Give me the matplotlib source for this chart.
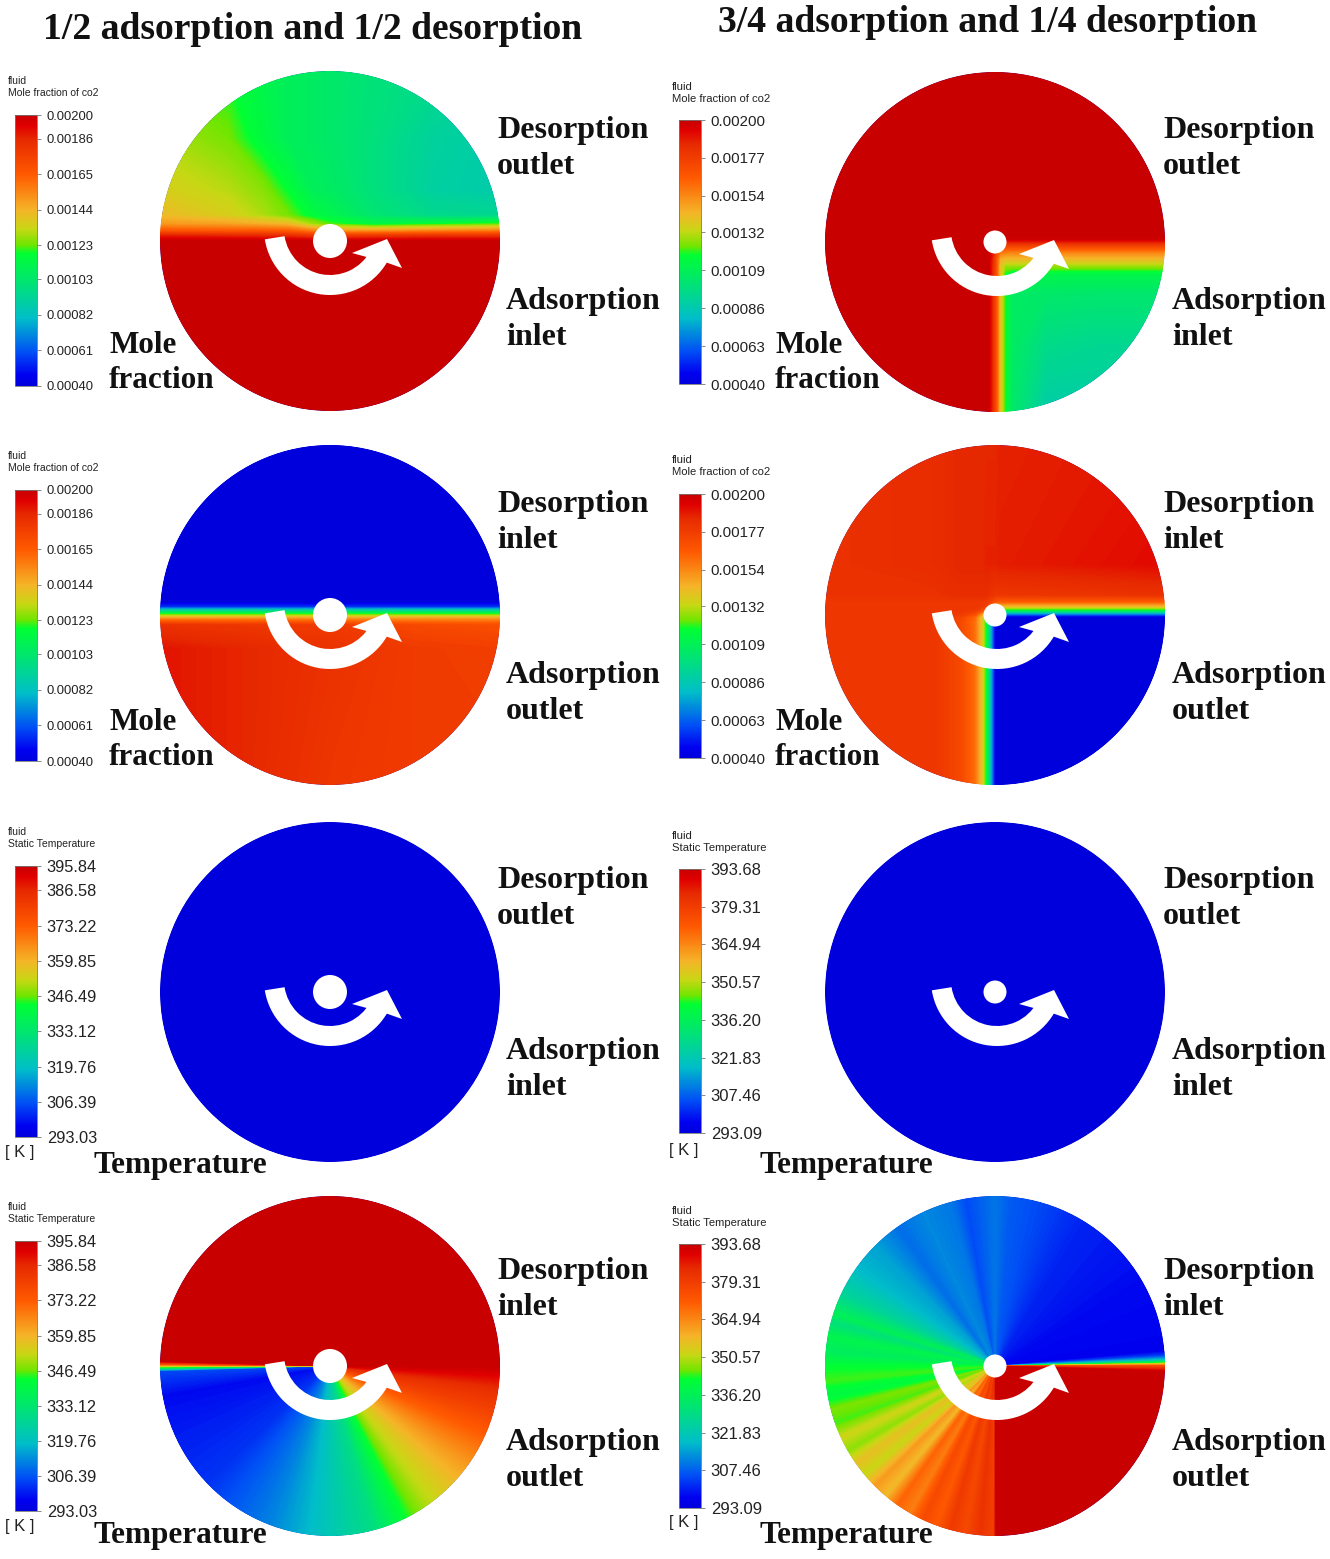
import numpy as np
import matplotlib
matplotlib.use("Agg")
from matplotlib import pyplot as plt
from matplotlib.cm import ScalarMappable
from matplotlib.colors import LinearSegmentedColormap, Normalize
from matplotlib.patches import Circle, Polygon, Wedge

W, H = 1330, 1559

# colour scale
cmap_pos = [0, .04, .125, .25, .39, .49, .52, .58, .65, .78, .9125, .96, 1]
cmap_col = ["#0000dc", "#0000f0", "#0050f5", "#00bec8", "#00e66e", "#00ff32", "#6ee600",
            "#c8d714", "#f5b428", "#ff5a00", "#e62800", "#e00000", "#c80000"]
fluent = LinearSegmentedColormap.from_list("fluent", list(zip(cmap_pos, cmap_col)), N=512)

# legend ticks
mole_left = [0.00200, 0.00186, 0.00165, 0.00144, 0.00123, 0.00103, 0.00082, 0.00061, 0.00040]
mole_right = [0.00200, 0.00177, 0.00154, 0.00132, 0.00109, 0.00086, 0.00063, 0.00040]
temp_left = [395.84, 386.58, 373.22, 359.85, 346.49, 333.12, 319.76, 306.39, 293.03]
temp_right = [393.68, 379.31, 364.94, 350.57, 336.20, 321.83, 307.46, 293.09]

# mole fraction fields x 1e-5, on (v, u) knots of the unit disc, v from top to bottom
a1_u = [-1, -.6, -.4, -.25, -.1, 0, .25, .6, 1]
a1_v = [1, .6, .3, .15, .1, .06, .03, 0, -1]
a1_z = [[122, 118, 112, 108, 106, 104, 100, 96, 92],
        [130, 124, 115, 108, 106, 104, 99, 91, 88],
        [136, 131, 126, 118, 108, 106, 99, 90, 87],
        [142, 136, 130, 124, 116, 112, 102, 95, 94],
        [150, 148, 145, 142, 128, 122, 114, 118, 122],
        [166, 165, 165, 164, 155, 150, 150, 154, 156],
        [188, 186, 185, 184, 180, 178, 180, 182, 182],
        [200, 200, 200, 200, 200, 200, 200, 200, 200],
        [200, 200, 200, 200, 200, 200, 200, 200, 200]]

a2_u = [-1, -.5, 0, .5, 1]
a2_v = [1, .08, .05, .03, .01, -.01, -.03, -.06, -.2, -1]
a2_z = [[40, 40, 40, 40, 40],
        [40, 40, 40, 40, 40],
        [55, 55, 55, 55, 55],
        [90, 90, 90, 90, 90],
        [118, 118, 118, 118, 118],
        [140, 140, 140, 140, 140],
        [160, 160, 158, 156, 155],
        [182, 180, 178, 172, 170],
        [190, 186, 182, 178, 176],
        [190, 186, 180, 178, 178]]

b1_u = [-1, -.04, -.015, .01, .03, .06, .1, .3, .6, 1]
b1_v = [1, .02, -.02, -.06, -.1, -.14, -.19, -.3, -.6, -1]
b1_z = [[200, 200, 200, 200, 200, 200, 200, 200, 200, 200],
        [200, 200, 200, 200, 200, 200, 200, 200, 200, 200],
        [200, 200, 195, 185, 178, 175, 175, 175, 175, 175],
        [200, 200, 190, 170, 158, 156, 155, 155, 155, 155],
        [200, 200, 186, 165, 145, 142, 142, 142, 142, 142],
        [200, 200, 185, 165, 140, 128, 128, 128, 128, 128],
        [200, 200, 185, 165, 140, 118, 112, 112, 112, 112],
        [200, 200, 185, 165, 140, 118, 106, 104, 103, 103],
        [200, 200, 185, 165, 140, 118, 106, 96, 94, 94],
        [200, 200, 185, 165, 140, 118, 104, 88, 88, 88]]

b2_u = [-1, -.35, -.2, -.12, -.08, -.05, -.03, 0, .03, 1]
b2_v = [1, .3, .12, .08, .05, .03, .01, -.01, -.04, -1]
b2_z = [[182, 184, 186, 186, 186, 186, 186, 186, 187, 190],
        [182, 184, 186, 186, 186, 187, 187, 187, 188, 192],
        [182, 182, 184, 184, 184, 184, 182, 180, 180, 182],
        [180, 180, 180, 180, 180, 178, 175, 168, 165, 165],
        [180, 180, 180, 180, 178, 175, 165, 145, 140, 140],
        [180, 180, 180, 178, 172, 160, 140, 120, 115, 115],
        [180, 180, 178, 172, 155, 130, 105, 80, 75, 75],
        [180, 180, 174, 162, 140, 115, 85, 45, 42, 42],
        [180, 180, 172, 160, 140, 115, 85, 42, 40, 40],
        [180, 180, 172, 160, 140, 115, 85, 42, 40, 40]]

# temperature fields, angle in degrees and value in K
c_theta = [0, 45, 90, 135, 178.3, 179.4, 180, 180.7, 181.7, 190, 225, 250, 270, 285, 295, 305, 315,
           325, 335, 345, 352, 357, 360]
c_temp = [395.84, 395.84, 395.84, 395.84, 395.84, 375, 355, 335, 305, 298, 303, 312, 322, 330, 342,
          351, 357, 364, 372, 380, 385, 392, 395.84]

d_theta = [0, 1, 2, 3.5, 5, 30, 60, 75, 85, 90, 100, 105, 115, 125, 135, 145, 150, 155, 162, 165,
           170, 175, 180, 185, 190, 195, 200, 205, 210, 215, 220, 225, 230, 235, 240, 245, 250, 255,
           260, 265, 269.5, 270.5, 300, 330, 358, 360]
d_temp = [375, 345, 320, 304, 297, 298, 301, 305, 307, 310, 305, 310, 312, 309, 315, 318, 322, 326,
          336, 330, 338, 335, 342, 344, 340, 346, 344, 352, 347, 356, 351, 362, 357, 370, 366,
          376, 372, 380, 376, 382, 378, 393.68, 393.68, 393.68, 393.68, 375]

# uniform temperature of the third row
uniform_temp = [293.03, 293.09]

title_left = "1/2 adsorption and 1/2 desorption"
title_right = "3/4 adsorption and 1/4 desorption"

sans = ["Liberation Sans", "DejaVu Sans"]
serif = ["Liberation Serif", "DejaVu Serif"]

fig = plt.figure(figsize=(W / 100, H / 100), dpi=100, facecolor="white")
ax = fig.add_axes([0, 0, 1, 1])
ax.set_xlim(0, W)
ax.set_ylim(H, 0)
ax.axis("off")


def draw_disc(cx, cy, hole, norm, arrow_dx, grid=None, polar=None, uniform=None):
    R = 170
    base = uniform if uniform is not None else norm.vmin
    disc = Circle((cx, cy), R, fc=fluent(norm(base)), ec="none", zorder=1)
    ax.add_patch(disc)
    levels = np.linspace(norm.vmin, norm.vmax, 220)
    if grid is not None:
        u, v, z = grid
        X, Y = np.meshgrid(cx + np.array(u) * R, cy - np.array(v) * R)
        Z = np.array(z) * 1e-5
    if polar is not None:
        theta, vals = polar
        th = np.radians(theta)
        radii = np.array([.03, 1.1]) * R
        X = cx + np.outer(radii, np.cos(th))
        Y = cy - np.outer(radii, np.sin(th))
        Z = np.vstack([vals, vals])
    if grid is not None or polar is not None:
        cs = ax.contourf(X, Y, Z, levels=levels, cmap=fluent, norm=norm, extend="both",
                         antialiased=False, zorder=2)
        cs.set_clip_path(disc)
    # white ring smooths the clipped edge
    ax.add_patch(Circle((cx, cy), R + 3, fc="none", ec="white", lw=4, zorder=3))
    ax.add_patch(Circle((cx, cy), hole, fc="white", ec="none", zorder=4))
    # rotation arrow
    ax_c = (cx + arrow_dx, cy - 12)
    ax.add_patch(Wedge(ax_c, 66, 30, 171, width=20, fc="white", ec="none", zorder=5))
    ox, oy = cx + arrow_dx, cy
    ax.add_patch(Polygon([(ox + 22, oy + 12), (ox + 57, oy - 2), (ox + 72, oy + 27), (ox + 55, oy + 21)],
                         closed=True, fc="white", ec="none", zorder=5))


def draw_bar(x, y0, y1, ticks, fmt, name, head_y, size):
    w = 22
    cax = fig.add_axes([x / W, 1 - y1 / H, w / W, (y1 - y0) / H])
    norm = Normalize(min(ticks), max(ticks))
    cb = fig.colorbar(ScalarMappable(norm=norm, cmap=fluent), cax=cax)
    cb.set_ticks(ticks, labels=[fmt % t for t in ticks])
    cb.outline.set_edgecolor("#777777")
    cb.outline.set_linewidth(.6)
    cax.tick_params(length=3, width=.6, color="#777777", pad=4, labelsize=size, labelcolor="#222222")
    for lb in cax.get_yticklabels():
        lb.set_fontfamily(sans)
    head_size = 7.5 if x < 100 else 8.1
    ax.text(x - 7, head_y, "fluid", fontsize=head_size, family=sans, color="#222222", va="center")
    ax.text(x - 7, head_y + 12, name, fontsize=head_size, family=sans, color="#222222", va="center")


def label(x, y, s, size=23.05):
    ax.text(x, y, s, fontsize=size, family=serif, weight="bold", color="#111111", va="baseline", zorder=6)


cols = [(330, 17, 0, 15, 497, 506, 109, 93), (995, 11.5, 2, 679, 1163, 1172, 775, 760)]
rows = [
    ("Mole fraction of co2", [(115, 386, 81), (120, 384, 87)], 241, "outlet", "inlet", 138, 309),
    ("Mole fraction of co2", [(490, 761, 456), (494, 758, 460)], 615, "inlet", "outlet", 512, 683),
    ("Static Temperature", [(866, 1137, 832), (869, 1133, 836)], 992, "outlet", "inlet", 888, 1059),
    ("Static Temperature", [(1241, 1511, 1207), (1244, 1508, 1211)], 1366, "inlet", "outlet", 1279, 1450),
]
fields = [
    [dict(grid=(a1_u, a1_v, a1_z)), dict(grid=(b1_u, b1_v, b1_z))],
    [dict(grid=(a2_u, a2_v, a2_z)), dict(grid=(b2_u, b2_v, b2_z))],
    [dict(uniform=uniform_temp[0]), dict(uniform=uniform_temp[1])],
    [dict(polar=(c_theta, c_temp)), dict(polar=(d_theta, d_temp))],
]
bottom_baselines = [(353, 388), (730, 765), (1173, None), (1543, None)]
unit_y = [None, None, (1153, 1150), (1527, 1523)]

for r, (name, bars, cy, desc, ads, y_d, y_a) in enumerate(rows):
    for c, (cx, hole, adx, bx, xd, xa, xm, xt) in enumerate(cols):
        y0, y1, head = bars[c]
        is_mole = r < 2
        ticks = ([mole_left, mole_right] if is_mole else [temp_left, temp_right])[c]
        fmt = "%.5f" if is_mole else "%.2f"
        size = ([9.4, 10.8] if is_mole else [11.8, 12])[c]
        norm = Normalize(min(ticks), max(ticks))
        draw_disc(cx, cy + (1 if r == 0 and c == 1 else 0), hole, norm, adx, **fields[r][c])
        draw_bar(bx, y0, y1, ticks, fmt, name, head, size)
        label(xd, y_d, "Desorption")
        label(xd, y_d + 36, desc)
        label(xa, y_a, "Adsorption")
        label(xa, y_a + 36, ads)
        by = bottom_baselines[r]
        if is_mole:
            label(xm, by[0], "Mole", 22.4)
            label(xm, by[1], "fraction", 22.4)
        else:
            label(xt, by[0], "Temperature", 22.5)
            ax.text(bx + 5, unit_y[r][c], "[ K ]", fontsize=12, family=sans, color="#222222",
                    ha="center", va="center")

ax.text(43, 39, title_left, fontsize=27.1, family=serif, weight="bold", color="#111111", va="baseline")
ax.text(718, 32, title_right, fontsize=27.1, family=serif, weight="bold", color="#111111", va="baseline")

fig.savefig("out.png", dpi=100)
